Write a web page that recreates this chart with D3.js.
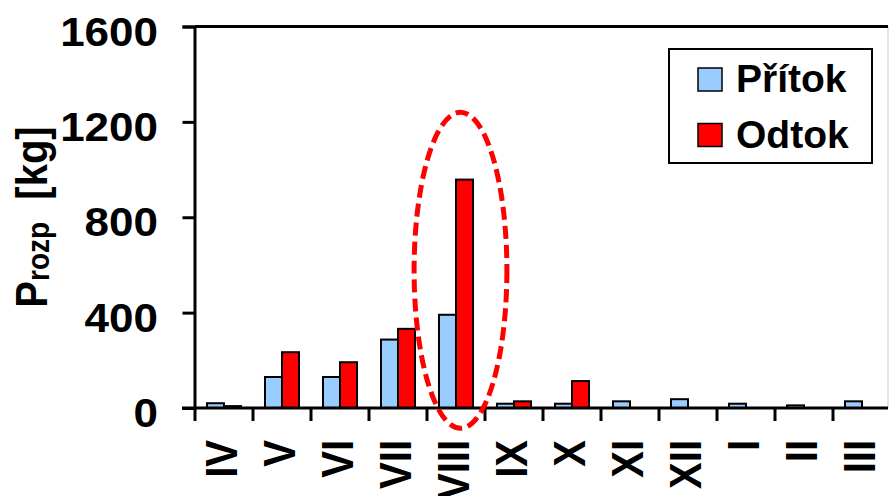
<!DOCTYPE html>
<html>
<head>
<meta charset="utf-8">
<script src="https://cdn.jsdelivr.net/npm/d3@7/dist/d3.min.js"></script>
<style>
  html, body { margin: 0; padding: 0; background: #fff; }
  svg { display: block; font-family: "Liberation Sans", Arial, sans-serif; font-weight: bold; }
</style>
</head>
<body>
<svg id="chart" width="889" height="496"></svg>
<script>
// Monthly values (hydrological year IV .. III)
const months = ["IV", "V", "VI", "VII", "VIII", "IX", "X", "XI", "XII", "I", "II", "III"];
const seriesNames = ["Přítok", "Odtok"];
const pritok = [20, 130, 130, 287, 391, 18, 18, 28, 37, 18, 11, 28];
const odtok  = [8, 234, 192, 332, 958, 28, 113, 0, 0, 0, 0, 0];
const seriesColors = ["#99CCFF", "#FF0000"];
const yTicks = [0, 400, 800, 1200, 1600];

// Highlighted month and its vertical extent (in kg) for the dashed ring
const highlightMonth = "VIII";
const highlightRange = [-85, 1240];

const svg = d3.select("#chart");
const W = 889, H = 496;
const plot = { left: 195, right: 891, top: 26.5, bottom: 408 };
const sx = 1.1; // horizontal text stretch

const x0 = d3.scaleBand().domain(months).range([plot.left, plot.right]).paddingInner(0).paddingOuter(0);
const x1 = d3.scaleBand().domain(seriesNames).range([0, x0.bandwidth()]).paddingInner(0).paddingOuter(0.705);
const y = d3.scaleLinear().domain([0, 1600]).range([plot.bottom, plot.top]);

// right edge of the plot area
svg.append("line")
  .attr("x1", 888).attr("x2", 888).attr("y1", plot.top).attr("y2", plot.bottom)
  .attr("stroke", "#c8c8c8").attr("stroke-width", 1);

// bars
const rows = months.map((m, i) => ({ month: m, values: [pritok[i], odtok[i]] }));
const groups = svg.append("g").selectAll("g").data(rows).join("g")
  .attr("transform", d => `translate(${x0(d.month)},0)`);
groups.selectAll("rect")
  .data(d => d.values.map((v, j) => ({ name: seriesNames[j], v, j })))
  .join("rect")
  .attr("x", d => x1(d.name))
  .attr("width", x1.bandwidth())
  .attr("y", d => y(d.v))
  .attr("height", d => y(0) - y(d.v))
  .attr("fill", d => seriesColors[d.j])
  .attr("stroke", "#000").attr("stroke-width", 2);

// y axis
const yAxis = d3.axisLeft(y).tickValues(yTicks).tickSize(12).tickFormat("");
const gy = svg.append("g").attr("transform", `translate(${plot.left - 0.5},0)`).call(yAxis);
gy.select(".domain").attr("stroke", "#000").attr("stroke-width", 3);
gy.selectAll(".tick line").attr("stroke", "#000").attr("stroke-width", 3);

// top border of plot area
svg.append("line")
  .attr("x1", plot.left).attr("x2", 888).attr("y1", y(1600)).attr("y2", y(1600))
  .attr("stroke", "#000").attr("stroke-width", 3);

// y tick labels
svg.append("g").selectAll("text").data(yTicks).join("text")
  .attr("transform", d => `translate(158,${y(d) + 19}) scale(${sx},1)`)
  .attr("text-anchor", "end")
  .attr("font-size", 40)
  .text(d => d);

// x axis: ticks at band boundaries
const bounds = months.map(m => x0(m)).concat([x0(months[months.length - 1]) + x0.bandwidth()]);
svg.append("line")
  .attr("x1", 182).attr("x2", 888).attr("y1", plot.bottom).attr("y2", plot.bottom)
  .attr("stroke", "#000").attr("stroke-width", 3);
svg.append("g").selectAll("line").data(bounds.filter(b => b < W)).join("line")
  .attr("x1", d => d).attr("x2", d => d)
  .attr("y1", plot.bottom).attr("y2", plot.bottom + 13)
  .attr("stroke", "#000").attr("stroke-width", 3);

// x tick labels, rotated
svg.append("g").selectAll("text").data(months).join("text")
  .attr("transform", d => `translate(${x0(d) + x0.bandwidth() / 2 + 13},440) scale(${sx},1) rotate(-90)`)
  .attr("text-anchor", "end")
  .attr("font-size", 40)
  .text(d => d);

// y axis title
const title = svg.append("text")
  .attr("transform", `translate(47,217) scale(${sx},1) rotate(-90)`)
  .attr("text-anchor", "middle")
  .attr("font-size", 40);
title.append("tspan").text("P");
title.append("tspan").attr("font-size", 28).attr("dy", 2).text("rozp");
title.append("tspan").attr("dy", -2).text("\u00a0\u00a0[kg]");

// dashed ring around the highlighted month
const hx = x0(highlightMonth) + x0.bandwidth() / 2 + 4.5;
svg.append("ellipse")
  .attr("cx", hx)
  .attr("cy", (y(highlightRange[0]) + y(highlightRange[1])) / 2)
  .attr("rx", x0.bandwidth() * 0.8)
  .attr("ry", (y(highlightRange[0]) - y(highlightRange[1])) / 2)
  .attr("fill", "none")
  .attr("stroke", "#FF0000").attr("stroke-width", 5)
  .attr("stroke-dasharray", "13,6");

// legend
const lg = svg.append("g");
lg.append("rect").attr("x", 669).attr("y", 49).attr("width", 203).attr("height", 114)
  .attr("fill", "#fff").attr("stroke", "#000").attr("stroke-width", 2);
seriesNames.forEach((name, i) => {
  const yy = 68 + i * 55.5;
  lg.append("rect").attr("x", 698).attr("y", yy).attr("width", 24).attr("height", 23)
    .attr("fill", seriesColors[i]).attr("stroke", "#000").attr("stroke-width", 1.5);
  lg.append("text").attr("x", 736).attr("y", yy + 24)
    .attr("font-size", 39).text(name);
});
</script>
</body>
</html>
